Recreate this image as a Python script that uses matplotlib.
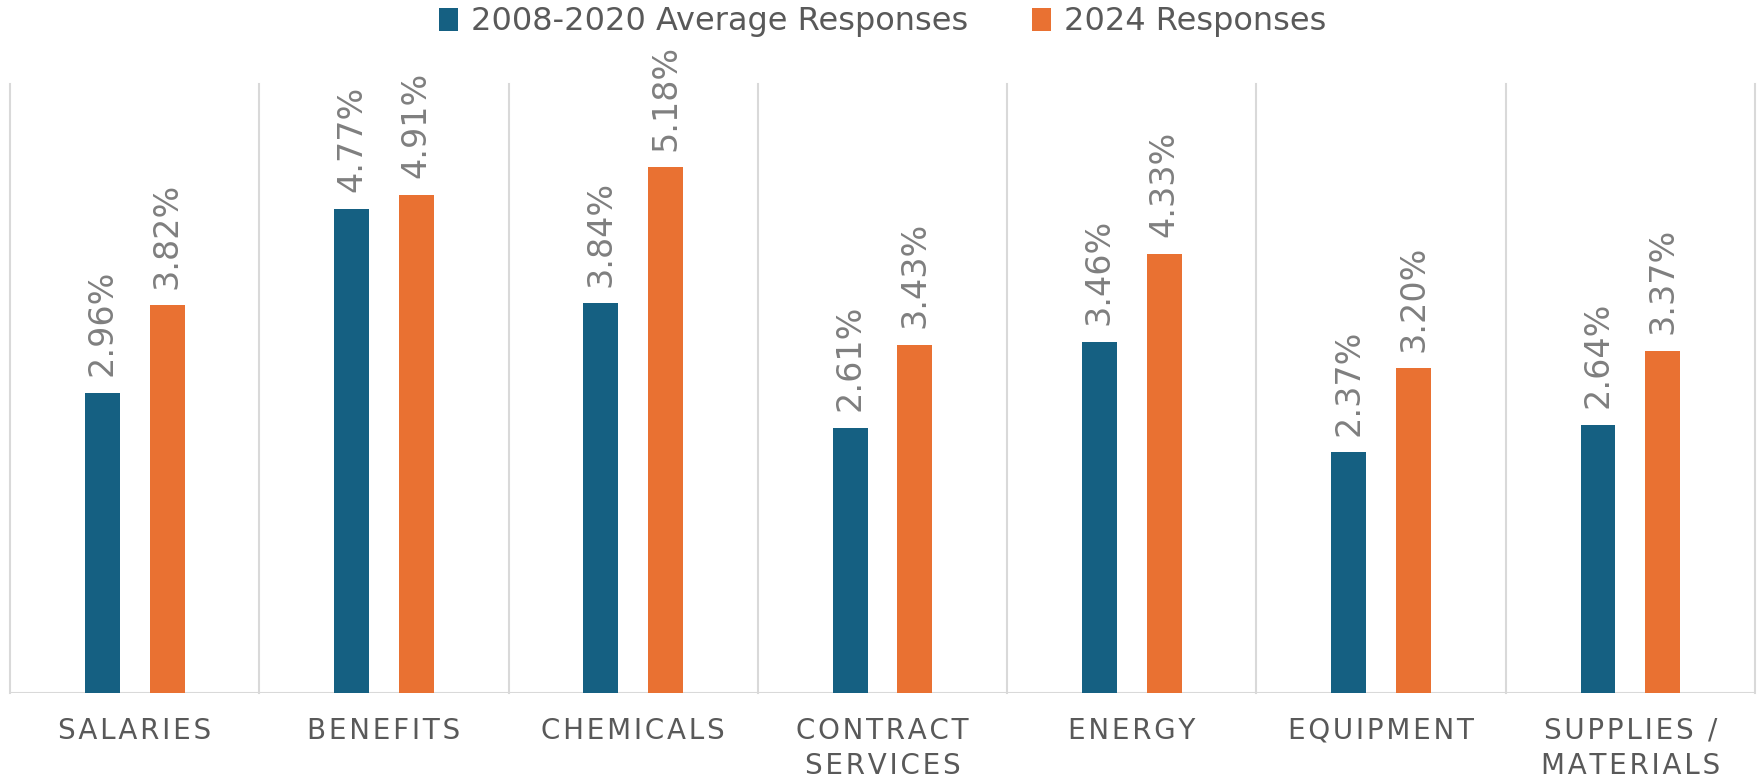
import numpy as np
import matplotlib.pyplot as plt

categories = ['SALARIES', 'BENEFITS', 'CHEMICALS', 'CONTRACT\nSERVICES', 'ENERGY', 'EQUIPMENT', 'SUPPLIES /\nMATERIALS']
avg_0820 = [2.96, 4.77, 3.84, 2.61, 3.46, 2.37, 2.64]
resp_2024 = [3.82, 4.91, 5.18, 3.43, 4.33, 3.20, 3.37]
series_names = ['2008-2020 Average Responses', '2024 Responses']

blue = '#156082'
orange = '#e97132'
grid_c = '#d9d9d9'

plt.rcParams['font.family'] = ['DejaVu Sans']

fig = plt.figure(figsize=(17.61, 7.78), dpi=100)
ax = fig.add_axes([0.0057, 0.1093, 0.9909, 0.7827])

x = np.arange(len(categories))
off, w = 0.13, 0.14
b1 = ax.bar(x - off, avg_0820, w, color=blue, label=series_names[0], zorder=3)
b2 = ax.bar(x + off, resp_2024, w, color=orange, label=series_names[1], zorder=3)

for bars in (b1, b2):
    ax.bar_label(bars, labels=['%.2f%%' % v for v in bars.datavalues], rotation=90,
                 padding=12, fontsize=24, color='#7f7f7f')

# separators between categories
for s in np.arange(len(categories) + 1) - 0.5:
    ax.plot([s, s], [0, 6], color=grid_c, lw=1.5, zorder=1, clip_on=False)
ax.axhline(0, color=grid_c, lw=1.5, zorder=2)

ax.set_xlim(-0.5, len(categories) - 0.5)
ax.set_ylim(0, 6)
ax.set_yticks([])
ax.set_xticks([])
for sp in ax.spines.values():
    sp.set_visible(False)

for i, c in enumerate(categories):
    lines = c.split('\n')
    for j, ln in enumerate(lines):
        ax.text(i, -0.37 - j * 0.345, '\u200a'.join(ln), ha='center', va='center',
                fontsize=20, color='#595959')

ax.legend(loc='center', bbox_to_anchor=(0.5, 1.102), ncol=2, frameon=False,
          fontsize=23, labelcolor='#595959', handlelength=0.6, handleheight=0.75,
          handletextpad=0.4, columnspacing=2.0)

fig.savefig('out.png', dpi=100)
